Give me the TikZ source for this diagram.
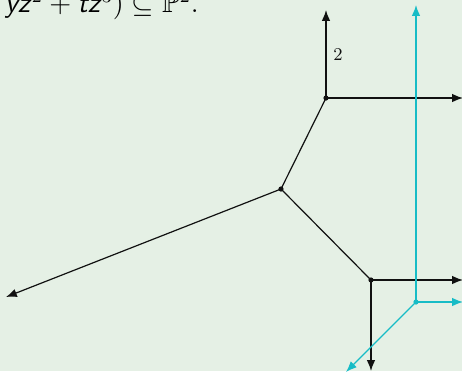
\documentclass[tikz,border=0pt]{standalone}
\usepackage{amssymb}
\usepackage{tikz}
\usetikzlibrary{arrows.meta}
\definecolor{paper}{HTML}{E5F0E5}
\definecolor{tropCyan}{HTML}{17BCC6}
\definecolor{ink}{HTML}{111111}

\begin{document}
\begin{tikzpicture}[
  x=0.5pt, y=-0.5pt,
  ray/.style={-{Latex[length=5.4pt, width=4.2pt]}, draw=ink, line width=0.6pt},
  edge/.style={draw=ink, line width=0.6pt},
  cray/.style={-{Latex[length=5.4pt, width=4.2pt]}, draw=tropCyan, line width=0.6pt},
  vtx/.style={circle, fill=ink, inner sep=0pt, minimum size=2.6pt},
  cvtx/.style={circle, fill=tropCyan, inner sep=0pt, minimum size=2.6pt},
  wt/.style={font=\small, color=ink}
]
% --- Frame and background ---
\useasboundingbox (0,0) rectangle (462,371);
\fill[paper] (0,0) rectangle (462,371);
\clip (0,0) rectangle (462,371);

% --- Caption line (cut off at the top) ---
\node[anchor=base east, font=\Large, inner sep=0pt] (cap) at (199,12.5)
  {$\textsf{\textit{yz}}^2+\textsf{\textit{tz}}^3)\subseteq\mathbb{P}^2$.};

% --- Vertices of the black curve ---
\node[vtx] (va) at (326,98) {};
\node[vtx] (vb) at (281,189) {};
\node[vtx] (vc) at (371,280) {};

% --- Free ends ---
\coordinate (aUp) at (326,10);
\coordinate (aRight) at (463,98);
\coordinate (bLeft) at (6,297);
\coordinate (cRight) at (463,280);
\coordinate (cDown) at (371,371);

% --- Black curve ---
\draw[edge] (va.center) -- (vb.center);
\draw[edge] (vb.center) -- (vc.center);
\draw[ray] (va.center) -- (aUp);
\draw[ray] (va.center) -- (aRight);
\draw[ray] (vb.center) -- (bLeft);
\draw[ray] (vc.center) -- (cRight);
\draw[ray] (vc.center) -- (cDown);

% --- Weight ---
\node[wt] (w2) at (338,55) {2};

% --- Cyan line ---
\node[cvtx] (vd) at (416,302) {};
\coordinate (dUp) at (416,5);
\coordinate (dRight) at (463,302);
\coordinate (dLeft) at (346,372);
\draw[cray] (vd.center) -- (dUp);
\draw[cray] (vd.center) -- (dRight);
\draw[cray] (vd.center) -- (dLeft);

\end{tikzpicture}
\end{document}
